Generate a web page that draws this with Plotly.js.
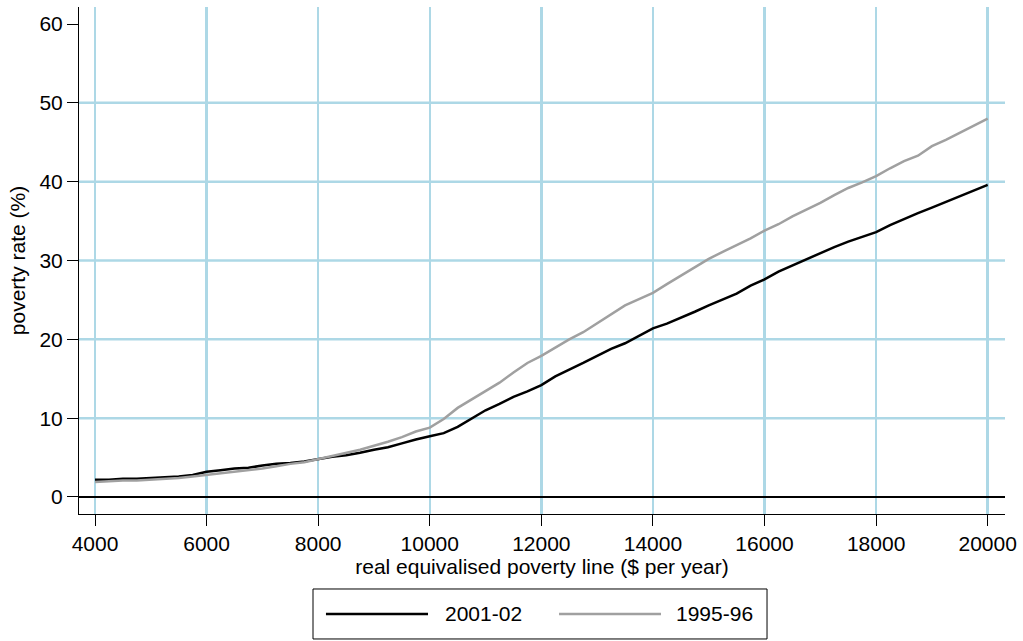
<!DOCTYPE html>
<html>
<head>
<meta charset="utf-8">
<script src="https://cdn.plot.ly/plotly-3.0.1.min.js"></script>
<style>
  html, body { margin: 0; padding: 0; background: #fff; }
  #chart { width: 1023px; height: 641px; }
</style>
</head>
<body>
<div id="chart"></div>
<script>
// poverty line ($ per year)
var povertyLine = [
  4000, 4250, 4500, 4750, 5000, 5250, 5500, 5750, 6000, 6250, 6500, 6750, 7000, 7250, 7500, 7750,
  8000, 8250, 8500, 8750, 9000, 9250, 9500, 9750, 10000, 10250, 10500, 10750, 11000, 11250, 11500, 11750,
  12000, 12250, 12500, 12750, 13000, 13250, 13500, 13750, 14000, 14250, 14500, 14750, 15000, 15250, 15500, 15750,
  16000, 16250, 16500, 16750, 17000, 17250, 17500, 17750, 18000, 18250, 18500, 18750, 19000, 19250, 19500, 19750,
  20000
];

// poverty rate (%) 2001-02
var rate2001 = [
  2.2, 2.2, 2.3, 2.3, 2.4, 2.5, 2.6, 2.8, 3.2, 3.4, 3.6, 3.7, 4.0, 4.2, 4.3, 4.5,
  4.8, 5.1, 5.3, 5.6, 6.0, 6.3, 6.8, 7.3, 7.7, 8.1, 8.9, 9.9, 11.0, 11.8, 12.7, 13.4,
  14.2, 15.3, 16.1, 17.0, 17.9, 18.8, 19.5, 20.5, 21.4, 22.0, 22.7, 23.5, 24.3, 25.1, 25.8, 26.8,
  27.6, 28.6, 29.4, 30.1, 30.9, 31.7, 32.4, 33.0, 33.6, 34.5, 35.3, 36.0, 36.7, 37.4, 38.2, 38.8,
  39.6
];

// poverty rate (%) 1995-96
var rate1995 = [
  1.9, 2.0, 2.1, 2.1, 2.2, 2.3, 2.4, 2.6, 2.8, 3.0, 3.2, 3.4, 3.6, 3.9, 4.2, 4.4,
  4.8, 5.2, 5.6, 6.0, 6.5, 7.0, 7.6, 8.3, 8.8, 9.9, 11.3, 12.4, 13.4, 14.5, 15.8, 17.0,
  17.9, 19.0, 20.0, 20.9, 22.0, 23.1, 24.3, 25.1, 25.9, 27.0, 28.1, 29.2, 30.2, 31.1, 31.9, 32.8,
  33.8, 34.6, 35.6, 36.4, 37.3, 38.3, 39.2, 39.9, 40.7, 41.7, 42.6, 43.3, 44.5, 45.3, 46.2, 47.2,
  48.0
];

var seriesNames = ['2001-02', '1995-96'];
var seriesColors = ['#000000', '#a0a0a0'];

var xTicks = [4000, 6000, 8000, 10000, 12000, 14000, 16000, 18000, 20000];
var yTicks = [0, 10, 20, 30, 40, 50, 60];
var yGrid = [10, 20, 30, 40, 50];

var gridBlue = '#add8e6';
var font = 'Liberation Sans, Arial, sans-serif';

var traces = [
  {
    x: povertyLine, y: rate2001, name: seriesNames[0], type: 'scatter', mode: 'lines',
    line: { color: seriesColors[0], width: 2.5 }
  },
  {
    x: povertyLine, y: rate1995, name: seriesNames[1], type: 'scatter', mode: 'lines',
    line: { color: seriesColors[1], width: 2.5 }
  }
];

// horizontal grid lines (no line at 60 in the original)
var shapes = yGrid.map(function (v) {
  return {
    type: 'line', xref: 'paper', x0: 0, x1: 1, yref: 'y', y0: v, y1: v,
    line: { color: gridBlue, width: 2.5 }, layer: 'below'
  };
});

// legend drawn by hand below the plot so the sample lines can be long like the original
var legBox = { x0: 0.2527, x1: 0.743, y0: -0.2465, y1: -0.1479 };
var legMidY = (legBox.y0 + legBox.y1) / 2;
var legItems = [
  { lx0: 0.2667, lx1: 0.3769, tx: 0.3931 },
  { lx0: 0.5184, lx1: 0.6285, tx: 0.6425 }
];
shapes.push({
  type: 'rect', xref: 'paper', yref: 'paper',
  x0: legBox.x0, x1: legBox.x1, y0: legBox.y0, y1: legBox.y1,
  line: { color: '#000000', width: 1 }, fillcolor: 'rgba(0,0,0,0)'
});
var annotations = [];
legItems.forEach(function (it, i) {
  shapes.push({
    type: 'line', xref: 'paper', yref: 'paper',
    x0: it.lx0, x1: it.lx1, y0: legMidY, y1: legMidY,
    line: { color: seriesColors[i], width: 2.5 }
  });
  annotations.push({
    xref: 'paper', yref: 'paper', x: it.tx, y: legMidY,
    xanchor: 'left', yanchor: 'middle', showarrow: false,
    text: seriesNames[i], font: { family: font, size: 21, color: '#000000' }
  });
});

var layout = {
  width: 1023,
  height: 641,
  margin: { l: 79, r: 18, t: 7, b: 127 },
  paper_bgcolor: '#ffffff',
  plot_bgcolor: '#ffffff',
  font: { family: font, size: 21, color: '#000000' },
  showlegend: false,
  xaxis: {
    range: [3713, 20310],
    tickvals: xTicks,
    ticktext: xTicks.map(String),
    showgrid: true, gridcolor: gridBlue, gridwidth: 2.5,
    zeroline: false,
    showline: true, linecolor: '#000000', linewidth: 1,
    ticks: 'outside', ticklen: 11, tickcolor: '#000000', tickwidth: 1,
    title: { text: 'real equivalised poverty line ($ per year)', standoff: 4, font: { size: 21 } }
  },
  yaxis: {
    range: [-2.16, 62.16],
    tickvals: yTicks,
    showgrid: false,
    zeroline: true, zerolinecolor: '#000000', zerolinewidth: 2.5,
    showline: true, linecolor: '#000000', linewidth: 1,
    ticks: 'outside', ticklen: 11, tickcolor: '#000000', tickwidth: 1,
    title: { text: 'poverty rate (%)', standoff: 8, font: { size: 21 } }
  },
  shapes: shapes,
  annotations: annotations
};

Plotly.newPlot('chart', traces, layout, { displayModeBar: false, staticPlot: true });
</script>
</body>
</html>
